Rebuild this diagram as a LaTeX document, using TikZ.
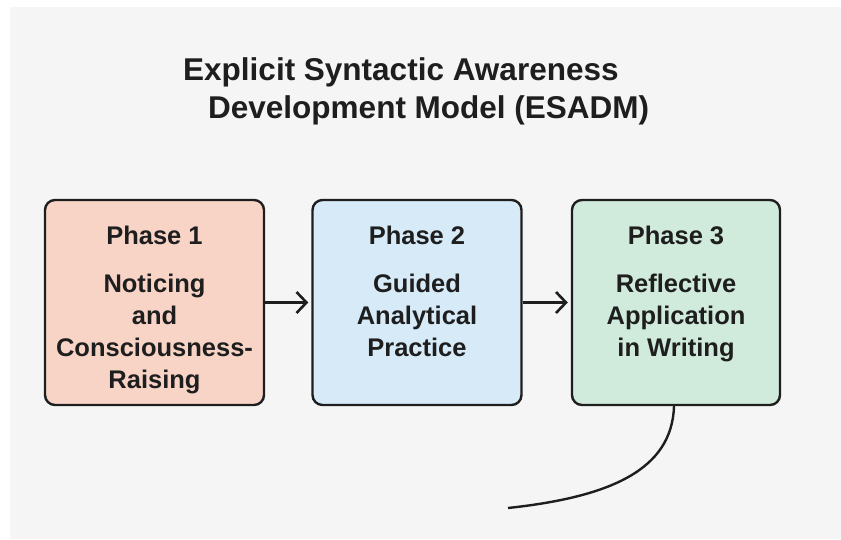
\documentclass[tikz,border=0pt]{standalone}
\usepackage{fontspec}
\setmainfont{Liberation Sans}
\usetikzlibrary{arrows.meta,positioning}
\definecolor{panelgray}{HTML}{F5F5F5}
\definecolor{peach}{HTML}{F8D4C7}
\definecolor{skyblue}{HTML}{D6EAF8}
\definecolor{mint}{HTML}{D0EBDB}
\definecolor{inkdark}{HTML}{1E1E1E}
\tikzset{phasebox/.style={draw=inkdark,line width=2.4pt,rounded corners=10pt,minimum height=205pt,inner sep=0pt},
  phasetext/.style={inner sep=0pt,align=center,text=inkdark,font=\fontsize{25.5}{32}\selectfont\bfseries},
  flowarrow/.style={draw=inkdark,line width=2.6pt,-{Straight Barb[length=10pt,width=21pt]},shorten >=3pt}}

\begin{document}
\begin{tikzpicture}[x=1pt,y=-1pt]
    \useasboundingbox (0,0) rectangle (841,539);
    \fill[panelgray] (10,7) rectangle (841,539);
    \node[anchor=base west,inner sep=0pt,text=inkdark,font=\fontsize{31.5}{38}\selectfont\bfseries] (title1) at (183,80) {Explicit Syntactic Awareness};
    \node[anchor=base west,inner sep=0pt,text=inkdark,font=\fontsize{31.5}{38}\selectfont\bfseries] (title2) at (208,118) {Development Model (ESADM)};
    \node[phasebox,fill=peach,minimum width=219pt] (phase1) at (154.5,302.5) {};
    \node[phasebox,fill=skyblue,minimum width=209pt] (phase2) at (417,302.5) {};
    \node[phasebox,fill=mint,minimum width=208pt] (phase3) at (676,302.5) {};
    \node[phasetext,below=27pt of phase1.north] (text1) {Phase 1\\[16pt]Noticing\\and\\Consciousness-\\Raising};
    \node[phasetext,below=27pt of phase2.north] (text2) {Phase 2\\[16pt]Guided\\Analytical\\Practice};
    \node[phasetext,below=27pt of phase3.north] (text3) {Phase 3\\[16pt]Reflective\\Application\\in Writing};
    \draw[flowarrow] (phase1) -- (phase2);
    \draw[flowarrow] (phase2) -- (phase3);
    \coordinate (tail) at (508,508);
    \draw[inkdark,line width=2.4pt] ([xshift=-2pt]phase3.south) .. controls (672,470) and (610,497) .. (tail);
\end{tikzpicture}
\end{document}
